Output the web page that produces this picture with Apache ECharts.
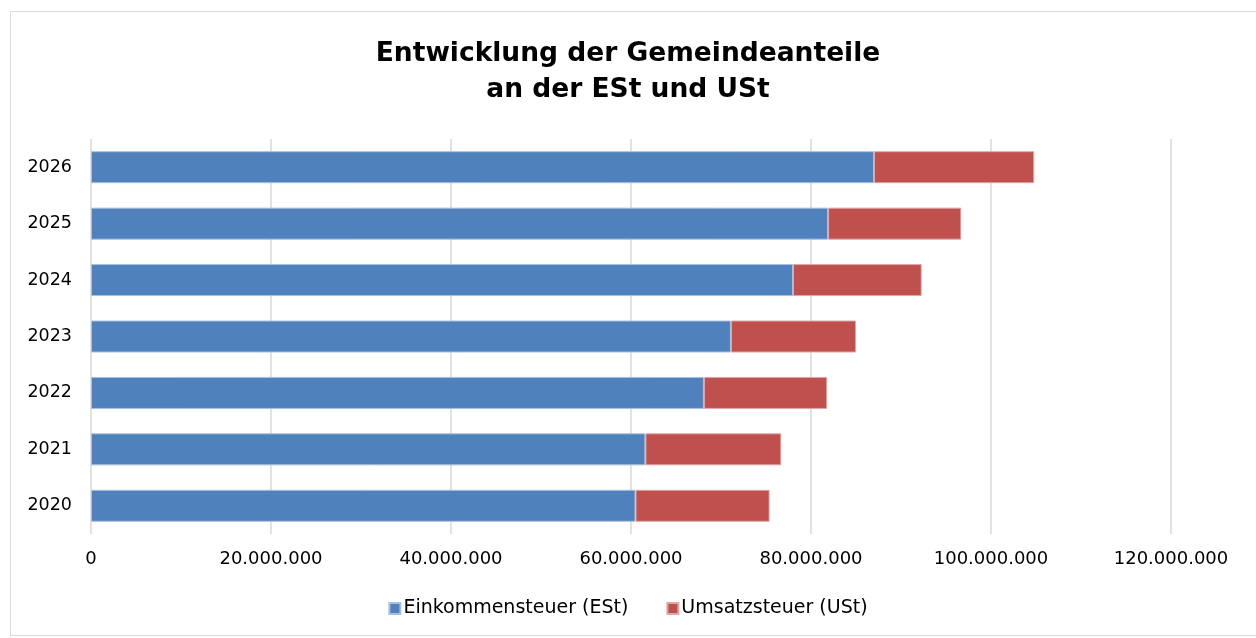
<!DOCTYPE html>
<html><head><meta charset="utf-8">
<script src="https://cdn.jsdelivr.net/npm/echarts@6/dist/echarts.min.js"></script>
<style>html,body{margin:0;padding:0;background:#fff}#c{width:1256px;height:638px}</style>
</head><body><div id="c"></div>
<script>
const categories = ['2020','2021','2022','2023','2024','2025','2026'];
const est = [60500000, 61600000, 68100000, 71100000, 78000000, 81900000, 87000000];
const ust = [14900000, 15100000, 13700000, 13900000, 14300000, 14800000, 17800000];
const xTicks = [0, 20000000, 40000000, 60000000, 80000000, 100000000, 120000000];
const seriesNames = ['Einkommensteuer (ESt)', 'Umsatzsteuer (USt)'];
const titleLines = ['Entwicklung der Gemeindeanteile', 'an der ESt und USt'];

const FONT = 'DejaVu Sans';
function fmt(v){return String(Math.round(v)).replace(/\B(?=(\d{3})+(?!\d))/g,'.');}
const chart = echarts.init(document.getElementById('c'), null, {renderer:'canvas'});
chart.setOption({
  animation:false,
  backgroundColor:'#fff',
  graphic:[{type:'rect',shape:{x:10.5,y:11.5,width:1260,height:624},style:{fill:'none',stroke:'#d9d9d9',lineWidth:1}}],
  title:{text:titleLines.join('\n'),left:'center',top:31,textStyle:{fontFamily:FONT,fontSize:26.5,fontWeight:'bold',color:'#000',lineHeight:36}},
  legend:{bottom:15,left:'center',itemWidth:11,itemHeight:11,itemGap:38,icon:'rect',
    textStyle:{fontFamily:FONT,fontSize:19,color:'#000',padding:[0,0,0,-2]},data:seriesNames},
  grid:{left:91,right:85,top:139,bottom:104,containLabel:false},
  xAxis:{type:'value',min:0,max:120000000,interval:20000000,
    axisLine:{show:false},axisTick:{show:false},
    splitLine:{show:true,lineStyle:{color:'#d9d9d9',width:1.5}},
    axisLabel:{fontFamily:FONT,fontSize:18,color:'#000',margin:16,formatter:v=>fmt(v)}},
  yAxis:{type:'category',data:categories,
    axisLine:{show:false},axisTick:{show:false},
    axisLabel:{fontFamily:FONT,fontSize:17.5,color:'#000',margin:19}},
  series:[
    {name:seriesNames[0],type:'bar',stack:'t',data:est,barWidth:32,
      itemStyle:{color:'#4f81bd',borderColor:'#a7c0de',borderWidth:1}},
    {name:seriesNames[1],type:'bar',stack:'t',data:ust,barWidth:32,
      itemStyle:{color:'#c0504d',borderColor:'#dfa7a6',borderWidth:1}}
  ]
});
</script></body></html>
